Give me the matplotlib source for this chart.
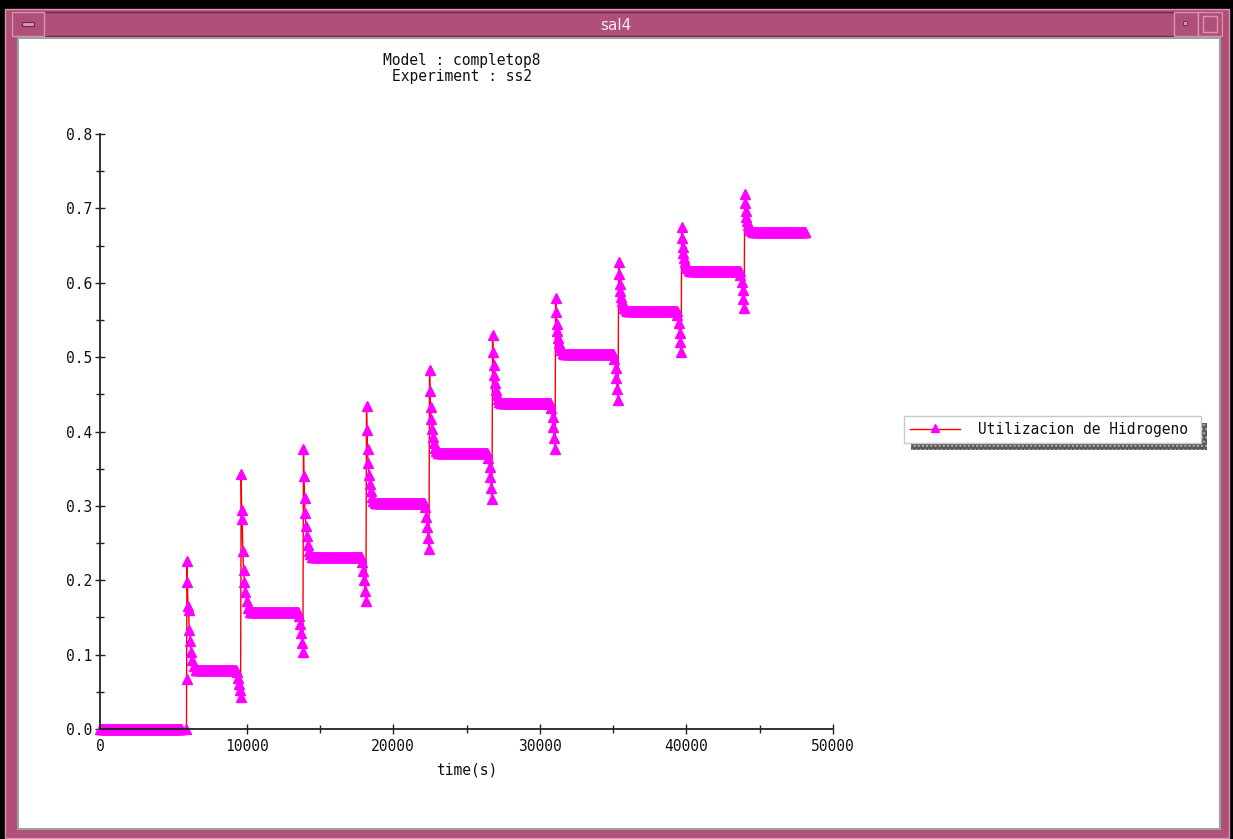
import numpy as np
import matplotlib
matplotlib.use('Agg')
import matplotlib.pyplot as plt
import matplotlib.patches as patches
from matplotlib.lines import Line2D

W, H = 1233, 839

# --- data ---
step_t = [5900, 9600, 13850, 18150, 22450, 26750, 31050, 35350, 39650, 43950]
t_end = 48100
levels = [0.0, 0.080, 0.157, 0.231, 0.304, 0.371, 0.438, 0.504, 0.562, 0.616, 0.668]
first_rise = 0.067

# overshoot / decay values after each step
peak_vals = [
    [0.226, 0.197, 0.166, 0.160, 0.133, 0.118, 0.104, 0.093, 0.085],
    [0.343, 0.294, 0.282, 0.239, 0.214, 0.198, 0.184, 0.172, 0.163],
    [0.376, 0.340, 0.311, 0.290, 0.273, 0.260, 0.248, 0.240, 0.235],
    [0.434, 0.402, 0.376, 0.357, 0.342, 0.330, 0.320, 0.312, 0.307],
    [0.483, 0.455, 0.433, 0.417, 0.403, 0.393, 0.384, 0.378, 0.374],
    [0.530, 0.507, 0.489, 0.476, 0.465, 0.456, 0.449, 0.444, 0.440],
    [0.579, 0.560, 0.545, 0.535, 0.526, 0.519, 0.513, 0.509, 0.506],
    [0.628, 0.612, 0.598, 0.589, 0.581, 0.575, 0.570, 0.566, 0.564],
    [0.675, 0.660, 0.648, 0.640, 0.633, 0.628, 0.623, 0.620, 0.617],
    [0.720, 0.707, 0.697, 0.689, 0.683, 0.678, 0.674, 0.671, 0.669],
]
decay_dt = [30, 60, 100, 140, 190, 250, 320, 400, 500]

# undershoot just before each step
dip_vals = [
    [],
    [0.076, 0.069, 0.061, 0.052, 0.043],
    [0.152, 0.141, 0.129, 0.116, 0.103],
    [0.225, 0.213, 0.200, 0.186, 0.172],
    [0.298, 0.285, 0.272, 0.257, 0.242],
    [0.365, 0.352, 0.339, 0.324, 0.309],
    [0.432, 0.419, 0.406, 0.391, 0.376],
    [0.498, 0.485, 0.472, 0.457, 0.442],
    [0.557, 0.546, 0.533, 0.520, 0.507],
    [0.611, 0.601, 0.590, 0.578, 0.566],
]
dip_dt = [-260, -180, -120, -60, -10]

# assemble the time series (dense solver output on the plateaus)
t, y = [], []
seg_start = [0] + [s + 620 for s in step_t]
seg_stop = [s - 300 for s in step_t] + [t_end]
for k in range(len(step_t) + 1):
    tt = np.arange(seg_start[k], seg_stop[k], 55)
    t += list(tt)
    y += [levels[k]] * len(tt)
    if k == len(step_t):
        t.append(t_end); y.append(levels[k])
        break
    s = step_t[k]
    for dt, v in zip(dip_dt, dip_vals[k]):
        t.append(s + dt); y.append(v)
    if k == 0:
        t.append(s); y.append(levels[0])
        t.append(s + 10); y.append(first_rise)
    for dt, v in zip(decay_dt, peak_vals[k]):
        t.append(s + dt); y.append(v)
t = np.array(t)
y = np.array(y)

# --- figure with window chrome ---
fig = plt.figure(figsize=(W / 100, H / 100), dpi=100, facecolor='black')

def box(x0, y0, x1, y1, z=-10, **kw):
    r = patches.Rectangle((x0 / W, 1 - y1 / H), (x1 - x0) / W, (y1 - y0) / H,
                          transform=fig.transFigure, zorder=z, **kw)
    fig.add_artist(r)
    return r

frame = '#B04F77'
light = '#DA93B2'
dark = '#6E2A48'
box(5, 9, 1229, 838, facecolor=frame, edgecolor=light, lw=1)
box(12, 12, 1222, 36, facecolor=frame, edgecolor=dark, lw=1)
box(12, 12, 44, 36, facecolor=frame, edgecolor=light, lw=1)
box(22, 22, 34, 26, facecolor=light, edgecolor=dark, lw=0.8)
box(1174, 12, 1198, 36, facecolor=frame, edgecolor=light, lw=1)
box(1183, 21, 1187, 25, facecolor=light, edgecolor=dark, lw=0.6)
box(1198, 12, 1222, 36, facecolor=frame, edgecolor=light, lw=1)
box(1203, 16, 1217, 32, facecolor=frame, edgecolor=light, lw=1)
box(18, 38, 1220, 829, facecolor='white', edgecolor='#A0A0A0', lw=1.5)
fig.text(616 / W, 1 - 25 / H, 'sal4', color='#F8E8F0', fontsize=11,
         ha='center', va='center', family='DejaVu Sans')

mono = 'DejaVu Sans Mono'
fig.text(462 / W, 1 - 61 / H, 'Model : completop8', family=mono, fontsize=10.5,
         ha='center', va='center', color='#111111')
fig.text(462 / W, 1 - 77 / H, 'Experiment : ss2', family=mono, fontsize=10.5,
         ha='center', va='center', color='#111111')

# --- plot area ---
ax = fig.add_axes([100 / W, 1 - 729 / H, 733 / W, (729 - 134) / H])
ax.set_zorder(5)
ax.patch.set_alpha(0)
ax.plot(t, y, color='red', lw=1, marker='^', ms=7, mfc='#FF00FF', mec='#FF00FF',
        clip_on=False)
ax.set_xlim(0, 50000)
ax.set_ylim(0, 0.8)
for side in ['top', 'right']:
    ax.spines[side].set_visible(False)
for side in ['left', 'bottom']:
    ax.spines[side].set_color('#222222')
    ax.spines[side].set_linewidth(1.3)
ax.set_xticks(np.arange(0, 50001, 10000))
ax.set_xticks(np.arange(5000, 50000, 10000), minor=True)
ax.set_yticks(np.arange(0, 0.81, 0.1))
ax.set_yticks(np.arange(0.05, 0.8, 0.1), minor=True)
ax.set_xticklabels([str(v) for v in range(0, 50001, 10000)])
ax.set_yticklabels(['%.1f' % v for v in np.arange(0, 0.81, 0.1)])
ax.tick_params(which='both', direction='inout', color='#222222', width=1,
               labelsize=10.5, labelcolor='#111111')
ax.tick_params(which='major', length=7)
ax.tick_params(axis='y', which='major', pad=2)
ax.tick_params(axis='x', which='major', pad=4)
ax.tick_params(which='minor', length=6)
for lab in ax.get_xticklabels() + ax.get_yticklabels():
    lab.set_family(mono)
ax.set_xlabel('time(s)', family=mono, fontsize=10.5, color='#111111', labelpad=6)

# --- legend box with hatched shadow ---
box(911, 423, 1207, 450, z=6, facecolor='#5A5A5A', edgecolor='#B0B0B0',
    hatch='....', lw=0)
box(904, 416, 1201, 443, z=7, facecolor='white', edgecolor='#C8C8C8', lw=1)
fig.add_artist(Line2D([910 / W, 960 / W], [1 - 429 / H] * 2, color='red', lw=1,
                      transform=fig.transFigure, zorder=8))
fig.add_artist(Line2D([935 / W], [1 - 428 / H], marker='^', ms=6, color='#FF00FF',
                      transform=fig.transFigure, zorder=9))
fig.text(978 / W, 1 - 429 / H, 'Utilizacion de Hidrogeno', family=mono,
         fontsize=10.5, ha='left', va='center', color='#111111', zorder=9)

fig.savefig('out.png', dpi=100, facecolor='black')
